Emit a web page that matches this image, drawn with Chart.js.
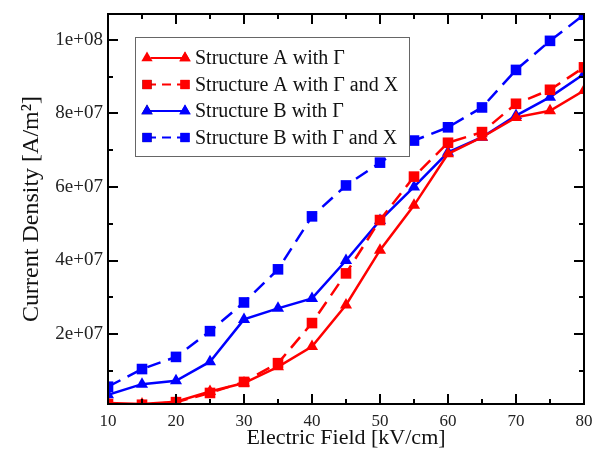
<!DOCTYPE html>
<html>
<head>
<meta charset="utf-8">
<script src="https://cdn.jsdelivr.net/npm/chart.js@4"></script>
<style>
  html, body { margin: 0; padding: 0; background: #fff; }
  #wrap { width: 593px; height: 451px; }
</style>
</head>
<body>
<div id="wrap"><canvas id="chart" width="593" height="451"></canvas></div>
<script>
// Données
const fieldValues = [10, 15, 20, 25, 30, 35, 40, 45, 50, 55, 60, 65, 70, 75, 80];
const structA_gamma  = [1.3e6, 1.0e6, 1.6e6, 4.4e6, 6.7e6, 1.11e7, 1.66e7, 2.79e7, 4.28e7, 5.5e7, 6.9e7, 7.35e7, 7.89e7, 8.07e7, 8.62e7];
const structA_gammaX = [1.0e6, 0.8e6, 1.5e6, 4.0e6, 7.0e6, 1.21e7, 2.3e7, 3.65e7, 5.1e7, 6.28e7, 7.2e7, 7.49e7, 8.26e7, 8.64e7, 9.25e7];
const structB_gamma  = [3.5e6, 6.4e6, 7.3e6, 1.25e7, 2.4e7, 2.7e7, 2.97e7, 4.0e7, 5.09e7, 6.0e7, 6.94e7, 7.35e7, 7.94e7, 8.44e7, 9.07e7];
const structB_gammaX = [5.7e6, 1.05e7, 1.38e7, 2.08e7, 2.86e7, 3.76e7, 5.2e7, 6.04e7, 6.66e7, 7.26e7, 7.62e7, 8.16e7, 9.18e7, 9.97e7, 1.068e8];
const yTickValues = [2e7, 4e7, 6e7, 8e7, 1e8];
const xTickValues = [10, 20, 30, 40, 50, 60, 70, 80];

const RED = '#ff0000';
const BLUE = '#0000ff';
const SERIF = '"Liberation Serif", "Times New Roman", serif';

function toPoints(ys) {
    return fieldValues.map((x, i) => ({ x: x, y: ys[i] }));
}

function makeSet(label, ys, color, shape, dashed) {
    return {
        label: label,
        data: toPoints(ys),
        borderColor: color,
        backgroundColor: color,
        borderWidth: 2.5,
        borderDash: dashed ? [14, 8] : [],
        pointStyle: shape,
        pointRadius: shape === 'rect' ? 7.5 : 7,
        pointBorderWidth: 0,
        tension: 0
    };
}

// format "1e+08", "8e+07"
function sciLabel(v) {
    const exp = Math.floor(Math.log10(v) + 1e-9);
    const mant = Math.round(v / Math.pow(10, exp));
    return mant + 'e+' + String(exp).padStart(2, '0');
}

// Cadre, graduations intérieures et légende dessinés à la main
const framePlugin = {
    id: 'frame',
    afterDatasetsDraw(chart) {
        const ctx = chart.ctx;
        const xs = chart.scales.x;
        const ys = chart.scales.y;
        const a = chart.chartArea;
        ctx.save();
        ctx.strokeStyle = '#000';
        ctx.lineWidth = 2;
        ctx.setLineDash([]);
        ctx.strokeRect(a.left, a.top, a.right - a.left, a.bottom - a.top);

        ctx.beginPath();
        for (let v = 10; v <= 80; v += 5) {
            const px = Math.round(xs.getPixelForValue(v));
            const len = v % 10 === 0 ? 10 : 5;
            ctx.moveTo(px, a.bottom); ctx.lineTo(px, a.bottom - len);
            ctx.moveTo(px, a.top); ctx.lineTo(px, a.top + len);
        }
        for (let k = 1; k <= 10; k++) {
            const v = k * 1e7;
            const py = Math.round(ys.getPixelForValue(v));
            const len = k % 2 === 0 ? 10 : 5;
            ctx.moveTo(a.left, py); ctx.lineTo(a.left + len, py);
            ctx.moveTo(a.right, py); ctx.lineTo(a.right - len, py);
        }
        ctx.stroke();
        ctx.restore();
    },
    afterDraw(chart) {
        const ctx = chart.ctx;
        const a = chart.chartArea;
        const bx = a.left + 27, by = a.top + 23, bw = 274, bh = 119;
        ctx.save();
        ctx.fillStyle = '#fff';
        ctx.fillRect(bx, by, bw, bh);
        ctx.strokeStyle = '#666';
        ctx.lineWidth = 1;
        ctx.strokeRect(bx + 0.5, by + 0.5, bw, bh);
        ctx.font = '20px ' + SERIF;
        ctx.textBaseline = 'middle';
        chart.data.datasets.forEach((ds, i) => {
            const y = by + 21 + i * 26.5;
            const x0 = bx + 12, x1 = bx + 50;
            ctx.strokeStyle = ds.borderColor;
            ctx.lineWidth = 2;
            ctx.setLineDash(ds.borderDash.length ? [9, 6] : []);
            ctx.beginPath();
            ctx.moveTo(x0, y); ctx.lineTo(x1, y);
            ctx.stroke();
            ctx.setLineDash([]);
            [x0, x1].forEach(px => {
                Chart.helpers.drawPoint(ctx, {
                    pointStyle: ds.pointStyle,
                    radius: 6.5,
                    borderWidth: 0
                }, px, y);
                ctx.fillStyle = ds.backgroundColor;
                ctx.fill();
            });
            ctx.fillStyle = '#111';
            ctx.fillText(ds.label, bx + 60, y + 1);
        });
        ctx.restore();
    }
};

const ctx = document.getElementById('chart').getContext('2d');
const currentChart = new Chart(ctx, {
    type: 'line',
    data: {
        datasets: [
            makeSet('Structure A with Γ', structA_gamma, RED, 'triangle', false),
            makeSet('Structure A with Γ and X', structA_gammaX, RED, 'rect', true),
            makeSet('Structure B with Γ', structB_gamma, BLUE, 'triangle', false),
            makeSet('Structure B with Γ and X', structB_gammaX, BLUE, 'rect', true)
        ]
    },
    options: {
        responsive: false,
        animation: false,
        layout: { padding: { top: 14, right: 9, left: 0, bottom: 0 } },
        plugins: {
            legend: { display: false },
            tooltip: { enabled: false }
        },
        scales: {
            x: {
                type: 'linear',
                min: 10,
                max: 80,
                afterFit(scale) {
                    scale.height = 47;
                    scale.paddingLeft = 0;
                    scale.paddingRight = 0;
                },
                afterBuildTicks(scale) { scale.ticks = xTickValues.map(v => ({ value: v })); },
                grid: { display: false, drawTicks: false },
                border: { display: false },
                ticks: {
                    color: '#222',
                    padding: 7,
                    maxRotation: 0,
                    font: { family: SERIF, size: 17 }
                },
                title: {
                    display: true,
                    text: 'Electric Field [kV/cm]',
                    color: '#111',
                    padding: { top: 0, bottom: 0 },
                    font: { family: SERIF, size: 22 }
                }
            },
            y: {
                type: 'linear',
                min: 1e6,
                max: 1.07e8,
                afterFit(scale) {
                    scale.width = 108;
                    scale.paddingTop = 0;
                    scale.paddingBottom = 0;
                },
                afterBuildTicks(scale) { scale.ticks = yTickValues.map(v => ({ value: v })); },
                grid: { display: false, drawTicks: false },
                border: { display: false },
                ticks: {
                    color: '#222',
                    padding: 5,
                    font: { family: SERIF, size: 19 },
                    callback: v => sciLabel(v)
                },
                title: {
                    display: true,
                    text: 'Current Density [A/m²]',
                    color: '#111',
                    padding: { top: 17, bottom: 0 },
                    font: { family: SERIF, size: 24 }
                }
            }
        }
    },
    plugins: [framePlugin]
});
</script>
</body>
</html>
